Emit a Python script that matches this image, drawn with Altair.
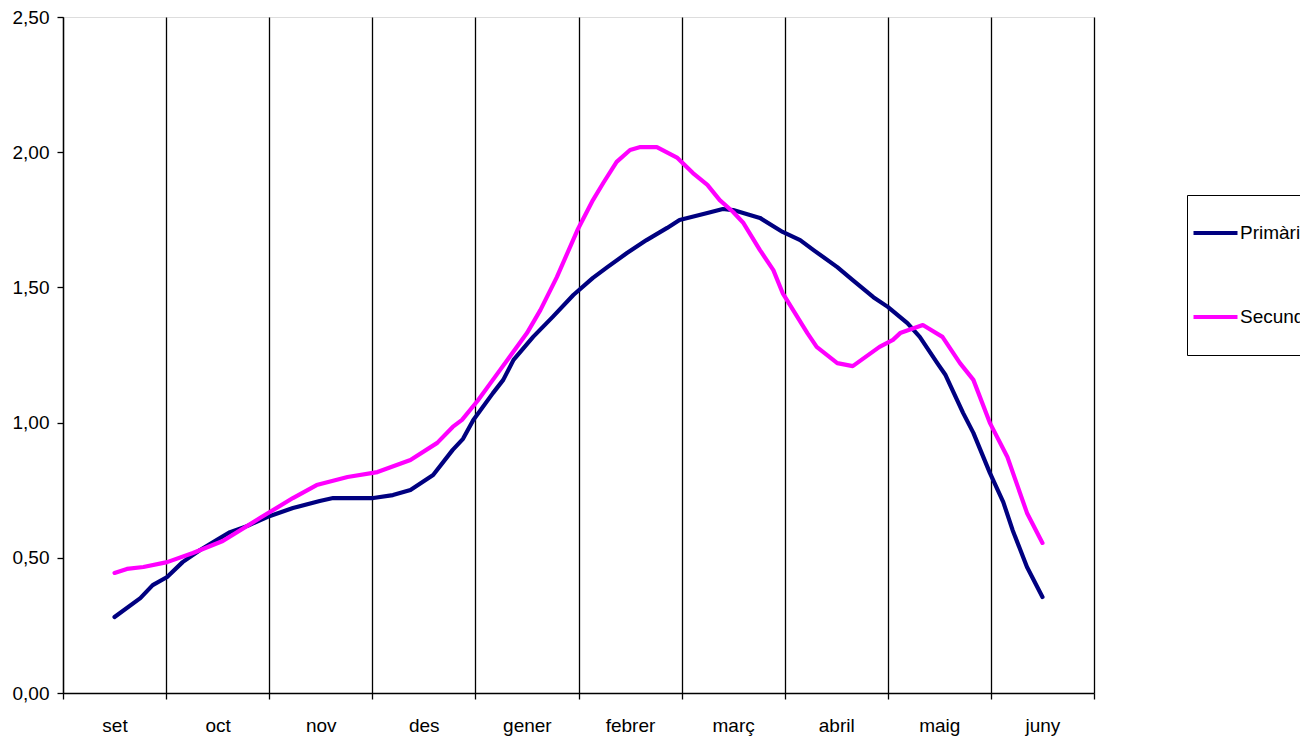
import altair as alt
import pandas as pd

months = ["set", "oct", "nov", "des", "gener", "febrer", "març", "abril", "maig", "juny"]
series_names = ["Primària", "Secundària"]
series_colors = ["#000080", "#FF00FF"]
y_ticks = [0, 0.5, 1.0, 1.5, 2.0, 2.5]

# position along the school year (0 = start of "set", 10 = end of "juny")
prim_t = [0.50, 0.75, 0.87, 1.01, 1.16, 1.33, 1.49, 1.62, 1.79, 1.98, 2.23, 2.49, 2.62,
          3.01, 3.20, 3.37, 3.59, 3.78, 3.88, 3.98, 4.17, 4.27, 4.37, 4.56, 4.75, 4.95,
          5.14, 5.28, 5.47, 5.66, 5.86, 5.98, 6.25, 6.40, 6.50, 6.76, 6.98, 7.15, 7.28,
          7.51, 7.66, 7.86, 8.00, 8.19, 8.31, 8.48, 8.56, 8.73, 8.83, 8.99, 9.12, 9.21,
          9.35, 9.50]
prim_v = [0.281, 0.351, 0.399, 0.429, 0.484, 0.529, 0.566, 0.595, 0.618, 0.651, 0.684,
          0.710, 0.721, 0.721, 0.732, 0.751, 0.806, 0.899, 0.940, 1.010, 1.109, 1.158,
          1.232, 1.317, 1.391, 1.472, 1.535, 1.575, 1.627, 1.675, 1.720, 1.749, 1.775,
          1.790, 1.786, 1.757, 1.705, 1.675, 1.638, 1.575, 1.527, 1.464, 1.428, 1.368,
          1.317, 1.220, 1.176, 1.036, 0.962, 0.814, 0.706, 0.603, 0.466, 0.355]

sec_t = [0.50, 0.62, 0.78, 1.01, 1.26, 1.55, 1.91, 2.23, 2.46, 2.76, 3.05, 3.37, 3.63,
         3.78, 3.87, 4.02, 4.24, 4.50, 4.63, 4.79, 4.99, 5.14, 5.24, 5.37, 5.50, 5.60,
         5.76, 5.96, 6.11, 6.25, 6.37, 6.50, 6.60, 6.76, 6.89, 6.98, 7.22, 7.31, 7.51,
         7.66, 7.92, 8.05, 8.12, 8.34, 8.53, 8.70, 8.83, 8.99, 9.16, 9.35, 9.50]
sec_v = [0.444, 0.459, 0.466, 0.484, 0.518, 0.562, 0.647, 0.721, 0.769, 0.799, 0.817,
         0.862, 0.925, 0.984, 1.010, 1.080, 1.195, 1.331, 1.416, 1.538, 1.712, 1.823,
         1.886, 1.964, 2.008, 2.019, 2.019, 1.979, 1.923, 1.879, 1.823, 1.779, 1.738,
         1.638, 1.564, 1.479, 1.331, 1.280, 1.220, 1.209, 1.280, 1.306, 1.331, 1.361,
         1.317, 1.220, 1.158, 0.999, 0.873, 0.666, 0.555]

df = pd.DataFrame({
    "t": prim_t + sec_t,
    "v": prim_v + sec_v,
    "serie": [series_names[0]] * len(prim_t) + [series_names[1]] * len(sec_t),
    "ord": list(range(len(prim_t))) + list(range(len(sec_t))),
})

FONT = "Liberation Sans"
FS = 19
month_expr = "[" + ",".join("'" + m + "'" for m in months) + ",''][datum.value]"

chart = alt.Chart(df).mark_line(strokeWidth=4.2, strokeCap="round", strokeJoin="round").encode(
    x=alt.X("t:Q",
            scale=alt.Scale(domain=[0, 10], nice=False, zero=False),
            axis=alt.Axis(values=list(range(11)), labelExpr=month_expr, labelOffset=51.5,
                          grid=True, gridColor="black", gridWidth=1.3, gridOpacity=1,
                          tickSize=6, tickColor="black", tickWidth=1.3,
                          domainColor="black", domainWidth=1.3,
                          title=None, labelFont=FONT, labelFontSize=FS, labelColor="black",
                          labelPadding=17, labelAlign="center", labelFlush=False,
                          labelOverlap=False)),
    y=alt.Y("v:Q",
            scale=alt.Scale(domain=[0, 2.5], nice=False),
            axis=alt.Axis(values=y_ticks,
                          labelExpr="replace(format(datum.value, '.2f'), '.', ',')",
                          grid=False, tickSize=6, tickColor="black", tickWidth=1.3,
                          domainColor="black", domainWidth=1.3,
                          title=None, labelFont=FONT, labelFontSize=FS, labelColor="black",
                          labelPadding=8, labelFlush=False, labelOverlap=False)),
    color=alt.Color("serie:N",
                    scale=alt.Scale(domain=series_names, range=series_colors),
                    legend=alt.Legend(orient="none", legendX=1124, legendY=178, title=None,
                                      symbolType="stroke", symbolSize=1936,
                                      symbolStrokeWidth=4.2, padding=4, clipHeight=68,
                                      rowPadding=16, labelOffset=0,
                                      strokeColor="black", fillColor="white",
                                      labelFont=FONT, labelFontSize=FS, labelColor="black",
                                      labelLimit=0)),
    order="ord:Q",
).properties(
    width=1031, height=676,
    padding={"left": 55, "top": 9, "right": 206, "bottom": 43},
    autosize=alt.AutoSizeParams(type="none"),
).configure_view(
    stroke="black", strokeWidth=1.3
).configure(background="white")

chart.save("out.html", embed_options={"renderer": "svg", "actions": False})
